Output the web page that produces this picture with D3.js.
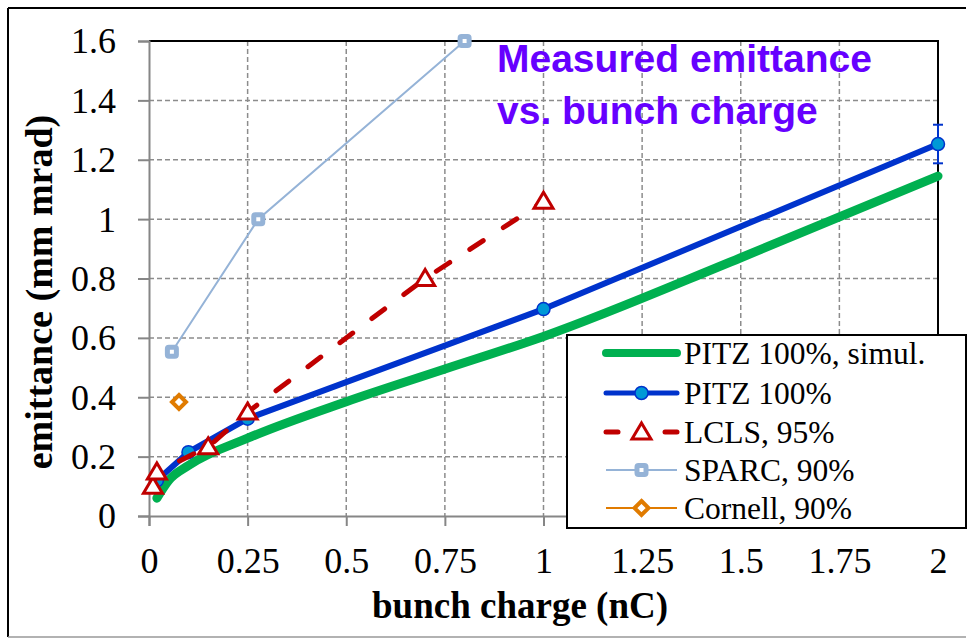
<!DOCTYPE html>
<html><head><meta charset="utf-8">
<script src="https://cdn.jsdelivr.net/npm/d3@7"></script>
<style>html,body{margin:0;padding:0;background:#fff;}svg{display:block;}</style>
</head><body>
<svg id="chart" width="967" height="639"></svg>
<script>
// ---- data ----
const xTickValues = [0, 0.25, 0.5, 0.75, 1, 1.25, 1.5, 1.75, 2];
const xTickLabels = ["0", "0.25", "0.5", "0.75", "1", "1.25", "1.5", "1.75", "2"];
const yTickValues = [0, 0.2, 0.4, 0.6, 0.8, 1, 1.2, 1.4, 1.6];
const yTickLabels = ["0", "0.2", "0.4", "0.6", "0.8", "1", "1.2", "1.4", "1.6"];

const simQ = [0.02, 0.05, 0.1, 0.25, 0.5, 0.75, 1, 1.5, 2];
const simE = [0.06, 0.12, 0.17, 0.262, 0.385, 0.495, 0.605, 0.87, 1.145];
const pitzQ = [0.02, 0.1, 0.25, 1, 2];
const pitzE = [0.12, 0.215, 0.328, 0.697, 1.253];
const pitzErr = [0, 0, 0, 0, 0.065];
const lclsQ = [0.01, 0.02, 0.15, 0.25, 0.7, 1];
const lclsE = [0.10, 0.148, 0.233, 0.35, 0.80, 1.06];
const sparcQ = [0.058, 0.277, 0.8];
const sparcE = [0.553, 1.0, 1.6];
const cornellQ = [0.076];
const cornellE = [0.384];

const seriesNames = ["PITZ 100%, simul.", "PITZ 100%", "LCLS, 95%", "SPARC, 90%", "Cornell, 90%"];
const titleLines = ["Measured emittance", "vs. bunch charge"];
const xTitle = "bunch charge (nC)";
const yTitle = "emittance (mm mrad)";

// ---- layout ----
const svg = d3.select("#chart");
const L = 149, R = 938, T = 41, B = 516;
const x = d3.scaleLinear().domain([0, 2]).range([L, R]);
const y = d3.scaleLinear().domain([0, 1.6]).range([B, T]);
const serif = "'Liberation Serif','Times New Roman',serif";
const sans = "'Liberation Sans',Arial,sans-serif";

const C = {sim: "#00B050", pitz: "#0033CC", pitzFill: "#0099D6", lcls: "#C00000", sparc: "#95B3D7", cornell: "#E07B00", grid: "#8C8C8C", axis: "#868686", title: "#6600FF"};

// outer frame
svg.append("line").attr("x1", 8).attr("y1", 8).attr("x2", 8).attr("y2", 637).attr("stroke", "#000").attr("stroke-width", 2);
svg.append("line").attr("x1", 8).attr("y1", 8).attr("x2", 966).attr("y2", 8).attr("stroke", "#000").attr("stroke-width", 2);
svg.append("line").attr("x1", 8).attr("y1", 637).attr("x2", 966).attr("y2", 637).attr("stroke", "#999").attr("stroke-width", 1.5);

// grid
const g = svg.append("g");
g.selectAll(".hg").data(yTickValues.slice(1, -1)).join("line")
  .attr("x1", L).attr("x2", R).attr("y1", d => y(d)).attr("y2", d => y(d))
  .attr("stroke", C.grid).attr("stroke-width", 1.5).attr("stroke-dasharray", "5,3");
g.selectAll(".vg").data(xTickValues.slice(1, -1)).join("line")
  .attr("y1", T).attr("y2", B).attr("x1", d => x(d)).attr("x2", d => x(d))
  .attr("stroke", C.grid).attr("stroke-width", 1.5).attr("stroke-dasharray", "5,3");
// top & right plot border
svg.append("line").attr("x1", L).attr("x2", R + 1).attr("y1", T).attr("y2", T).attr("stroke", "#000").attr("stroke-width", 2);
svg.append("line").attr("x1", R).attr("x2", R).attr("y1", T).attr("y2", B).attr("stroke", "#000").attr("stroke-width", 2);

// axes
const xAxis = d3.axisBottom(x).tickValues(xTickValues).tickFormat((d, i) => xTickLabels[i]).tickSizeOuter(0).tickSize(10).tickPadding(21);
const yAxis = d3.axisLeft(y).tickValues(yTickValues).tickFormat((d, i) => yTickLabels[i]).tickSizeOuter(0).tickSize(11).tickPadding(22);
const gx = svg.append("g").attr("transform", `translate(0,${B})`).call(xAxis);
const gy = svg.append("g").attr("transform", `translate(${L},0)`).call(yAxis);
[gx, gy].forEach(a => {
  a.attr("font-family", null).attr("font-size", null);
  a.select(".domain").attr("stroke", C.axis).attr("stroke-width", 2);
  a.selectAll(".tick line").attr("stroke", C.axis).attr("stroke-width", 2);
  a.selectAll(".tick text").attr("fill", "#000").style("font-family", serif).style("font-size", "36px");
});
gx.selectAll(".tick text").attr("dy", "0.71em");
gy.selectAll(".tick text").attr("dy", "0.33em");

// axis titles
svg.append("text").attr("x", 520).attr("y", 618).attr("text-anchor", "middle")
  .style("font-family", serif).style("font-size", "37px").style("font-weight", "bold").text(xTitle);
svg.append("text").attr("transform", "translate(52,292) rotate(-90)").attr("text-anchor", "middle")
  .style("font-family", serif).style("font-size", "38px").style("font-weight", "bold").text(yTitle);

// chart title
svg.append("text").attr("x", 497).attr("y", 72).style("font-family", sans).style("font-size", "39px").style("font-weight", "bold").attr("fill", C.title).text(titleLines[0]);
svg.append("text").attr("x", 497).attr("y", 124).style("font-family", sans).style("font-size", "39px").style("font-weight", "bold").attr("fill", C.title).text(titleLines[1]);

// series
const line = d3.line().x(d => x(d[0])).y(d => y(d[1]));
const zip = (a, b) => a.map((v, i) => [v, b[i]]);
const simD = zip(simQ, simE), pitzD = zip(pitzQ, pitzE), lclsD = zip(lclsQ, lclsE), sparcD = zip(sparcQ, sparcE), cornD = zip(cornellQ, cornellE);

svg.append("path").attr("d", d3.line().curve(d3.curveMonotoneX).x(d => x(d[0])).y(d => y(d[1]))(simD)).attr("fill", "none").attr("stroke", C.sim).attr("stroke-width", 9).attr("stroke-linecap", "round").attr("stroke-linejoin", "round");

svg.append("path").attr("d", line(pitzD)).attr("fill", "none").attr("stroke", C.pitz).attr("stroke-width", 6).attr("stroke-linejoin", "round");
// error bars
pitzD.forEach((d, i) => {
  const e = pitzErr[i];
  if (e > 0) {
    const cx = x(d[0]);
    svg.append("line").attr("x1", cx).attr("x2", cx).attr("y1", y(d[1] + e)).attr("y2", y(d[1] - e)).attr("stroke", C.pitz).attr("stroke-width", 2);
    [d[1] + e, d[1] - e].forEach(v => svg.append("line").attr("x1", cx - 5).attr("x2", cx + 5).attr("y1", y(v)).attr("y2", y(v)).attr("stroke", C.pitz).attr("stroke-width", 2));
  }
});
svg.selectAll(".pitzm").data(pitzD).join("circle").attr("cx", d => x(d[0])).attr("cy", d => y(d[1])).attr("r", 6.5)
  .attr("fill", C.pitzFill).attr("stroke", C.pitz).attr("stroke-width", 1.5);

svg.append("path").attr("d", line(lclsD)).attr("fill", "none").attr("stroke", C.lcls).attr("stroke-width", 5).attr("stroke-linecap", "round").attr("stroke-dasharray", "16,24");
const tri = "M0,-9 L9.5,7 L-9.5,7 Z";
svg.selectAll(".lclsm").data(lclsD).join("path").attr("d", tri).attr("transform", d => `translate(${x(d[0])},${y(d[1])})`)
  .attr("fill", "#fff").attr("stroke", C.lcls).attr("stroke-width", 3).attr("stroke-linejoin", "miter");

svg.append("path").attr("d", line(sparcD)).attr("fill", "none").attr("stroke", C.sparc).attr("stroke-width", 2);
svg.selectAll(".sparcm").data(sparcD).join("rect").attr("x", d => x(d[0]) - 4.5).attr("y", d => y(d[1]) - 4.5).attr("width", 9).attr("height", 9)
  .attr("fill", "#fff").attr("stroke", C.sparc).attr("stroke-width", 5).attr("rx", 1.5);

svg.selectAll(".cornm").data(cornD).join("path").attr("d", "M0,-7 L7,0 L0,7 L-7,0 Z").attr("transform", d => `translate(${x(d[0])},${y(d[1])})`)
  .attr("fill", "#fff").attr("stroke", C.cornell).attr("stroke-width", 4);

// legend
const lg = svg.append("g");
lg.append("rect").attr("x", 567).attr("y", 335).attr("width", 399).attr("height", 193).attr("fill", "#fff").attr("stroke", "#000").attr("stroke-width", 2);
const rowY = [353, 393, 432, 470, 508];
const lx1 = 606, lx2 = 677, lxm = 641.5;
// simul
lg.append("line").attr("x1", lx1).attr("x2", lx2).attr("y1", rowY[0]).attr("y2", rowY[0]).attr("stroke", C.sim).attr("stroke-width", 8).attr("stroke-linecap", "round");
// pitz
lg.append("line").attr("x1", lx1).attr("x2", lx2).attr("y1", rowY[1]).attr("y2", rowY[1]).attr("stroke", C.pitz).attr("stroke-width", 5).attr("stroke-linecap", "round");
lg.append("circle").attr("cx", lxm).attr("cy", rowY[1]).attr("r", 6.5).attr("fill", C.pitzFill).attr("stroke", C.pitz).attr("stroke-width", 1.5);
// lcls
lg.append("line").attr("x1", lx1).attr("x2", 618).attr("y1", rowY[2]).attr("y2", rowY[2]).attr("stroke", C.lcls).attr("stroke-width", 5).attr("stroke-linecap", "round");
lg.append("line").attr("x1", 665).attr("x2", lx2).attr("y1", rowY[2]).attr("y2", rowY[2]).attr("stroke", C.lcls).attr("stroke-width", 5).attr("stroke-linecap", "round");
lg.append("path").attr("d", tri).attr("transform", `translate(${lxm},${rowY[2]})`).attr("fill", "#fff").attr("stroke", C.lcls).attr("stroke-width", 3);
// sparc
lg.append("line").attr("x1", lx1).attr("x2", lx2).attr("y1", rowY[3]).attr("y2", rowY[3]).attr("stroke", C.sparc).attr("stroke-width", 2);
lg.append("rect").attr("x", lxm - 4.5).attr("y", rowY[3] - 4.5).attr("width", 9).attr("height", 9).attr("fill", "#fff").attr("stroke", C.sparc).attr("stroke-width", 5).attr("rx", 1.5);
// cornell
lg.append("line").attr("x1", lx1).attr("x2", lx2).attr("y1", rowY[4]).attr("y2", rowY[4]).attr("stroke", C.cornell).attr("stroke-width", 2);
lg.append("path").attr("d", "M0,-7 L7,0 L0,7 L-7,0 Z").attr("transform", `translate(${lxm},${rowY[4]})`).attr("fill", "#fff").attr("stroke", C.cornell).attr("stroke-width", 4);

lg.selectAll(".lt").data(seriesNames).join("text").attr("x", 684).attr("y", (d, i) => rowY[i]).attr("dy", "0.35em")
  .style("font-family", serif).style("font-size", "31.5px").attr("fill", "#000").text(d => d);
</script>
</body></html>
